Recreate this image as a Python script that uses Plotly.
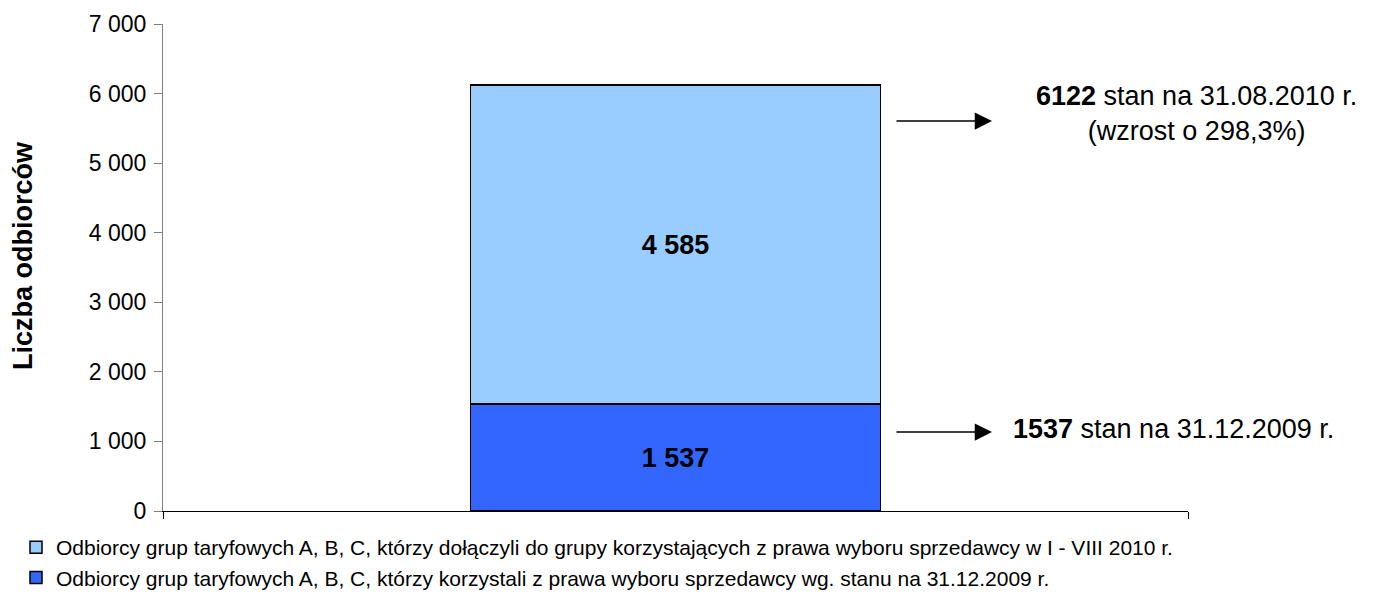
import plotly.graph_objects as go

# ---- data ----
category = ["2010"]
series_names = [
    "Odbiorcy grup taryfowych A, B, C, którzy korzystali z prawa wyboru sprzedawcy wg. stanu na 31.12.2009 r.",
    "Odbiorcy grup taryfowych A, B, C, którzy dołączyli do grupy korzystających z prawa wyboru sprzedawcy w I - VIII 2010 r.",
]
base_2009 = [1537]
added_2010 = [4585]
total_label = "<b>6122</b> stan na 31.08.2010 r.<br>(wzrost o 298,3%)"
base_label = "<b>1537</b> stan na 31.12.2009 r."
y_title = "Liczba odbiorców"
y_ticks = [0, 1000, 2000, 3000, 4000, 5000, 6000, 7000]

FONT = "Liberation Sans, Arial, sans-serif"
OFF = 8  # page body margin
W, H = 1373 - OFF, 595 - OFF
L, T = 163 - OFF, 24 - OFF
R = W - (1188 - OFF)
B = H - (511 - OFF)
pw, ph = W - L - R, H - T - B

def px_x(x):  # screen px -> paper
    return (x - OFF - L) / pw

def px_y(y):
    return (H - B - (y - OFF)) / ph

fig = go.Figure()
fig.add_trace(go.Bar(
    x=category, y=base_2009, name=series_names[0],
    marker=dict(color="#3366FF", line=dict(color="black", width=1.5)),
    texttemplate="<b>%{y:,d}</b>", textposition="inside", insidetextanchor="middle",
    textangle=0, textfont=dict(family=FONT, size=27, color="black"),
    legendgroup="a",
))
fig.add_trace(go.Bar(
    x=category, y=added_2010, name=series_names[1],
    marker=dict(color="#99CCFF", line=dict(color="black", width=1.5)),
    texttemplate="<b>%{y:,d}</b>", textposition="inside", insidetextanchor="middle",
    textangle=0, textfont=dict(family=FONT, size=27, color="black"),
    legendgroup="b",
))

annotations = [
    dict(text="<b>" + y_title + "</b>", xref="paper", yref="paper",
         x=px_x(23), y=px_y(256), textangle=-90, showarrow=False,
         xanchor="center", yanchor="middle",
         font=dict(family=FONT, size=27, color="black")),
    dict(text=total_label, xref="paper", yref="paper",
         x=px_x(1196), y=px_y(113), showarrow=False, align="center",
         xanchor="center", yanchor="middle",
         font=dict(family=FONT, size=27, color="black")),
    dict(text=base_label, xref="paper", yref="paper",
         x=px_x(1011), y=px_y(429), showarrow=False, align="left",
         xanchor="left", yanchor="middle",
         font=dict(family=FONT, size=27, color="black")),
    dict(text="", xref="paper", yref="paper", x=px_x(992), y=px_y(121),
         ax=-97, ay=0, showarrow=True, arrowhead=2, arrowsize=2.3,
         arrowwidth=1.5, arrowcolor="black"),
    dict(text="", xref="paper", yref="paper", x=px_x(992), y=px_y(432),
         ax=-97, ay=0, showarrow=True, arrowhead=2, arrowsize=2.3,
         arrowwidth=1.5, arrowcolor="black"),
]

fig.update_layout(
    width=W, height=H,
    margin=dict(l=L, r=R, t=T, b=B, autoexpand=False),
    barmode="stack", bargap=0.6,
    paper_bgcolor="white", plot_bgcolor="white",
    separators=", ",
    font=dict(family=FONT, color="black"),
    showlegend=True,
    legend=dict(
        traceorder="reversed", orientation="v",
        x=px_x(16), y=px_y(527), xanchor="left", yanchor="top",
        font=dict(family=FONT, size=21, color="black"),
        bgcolor="rgba(0,0,0,0)", tracegroupgap=8,
    ),
    annotations=annotations,
    xaxis=dict(
        type="category", range=[-0.5, 0.5], showticklabels=False,
        showgrid=False, showline=True, linecolor="black", linewidth=1,
        ticks="outside", tickson="boundaries", ticklen=7, tickcolor="black",
        zeroline=False, fixedrange=True,
    ),
    yaxis=dict(
        range=[0, 7000], tickvals=y_ticks, tickformat=",d",
        showgrid=False, showline=True, linecolor="#808080", linewidth=1,
        ticks="outside", ticklen=8, tickcolor="#808080",
        ticklabelstandoff=3,
        tickfont=dict(family=FONT, size=23, color="black"),
        zeroline=False, fixedrange=True,
    ),
)

fig.write_html("out.html")
